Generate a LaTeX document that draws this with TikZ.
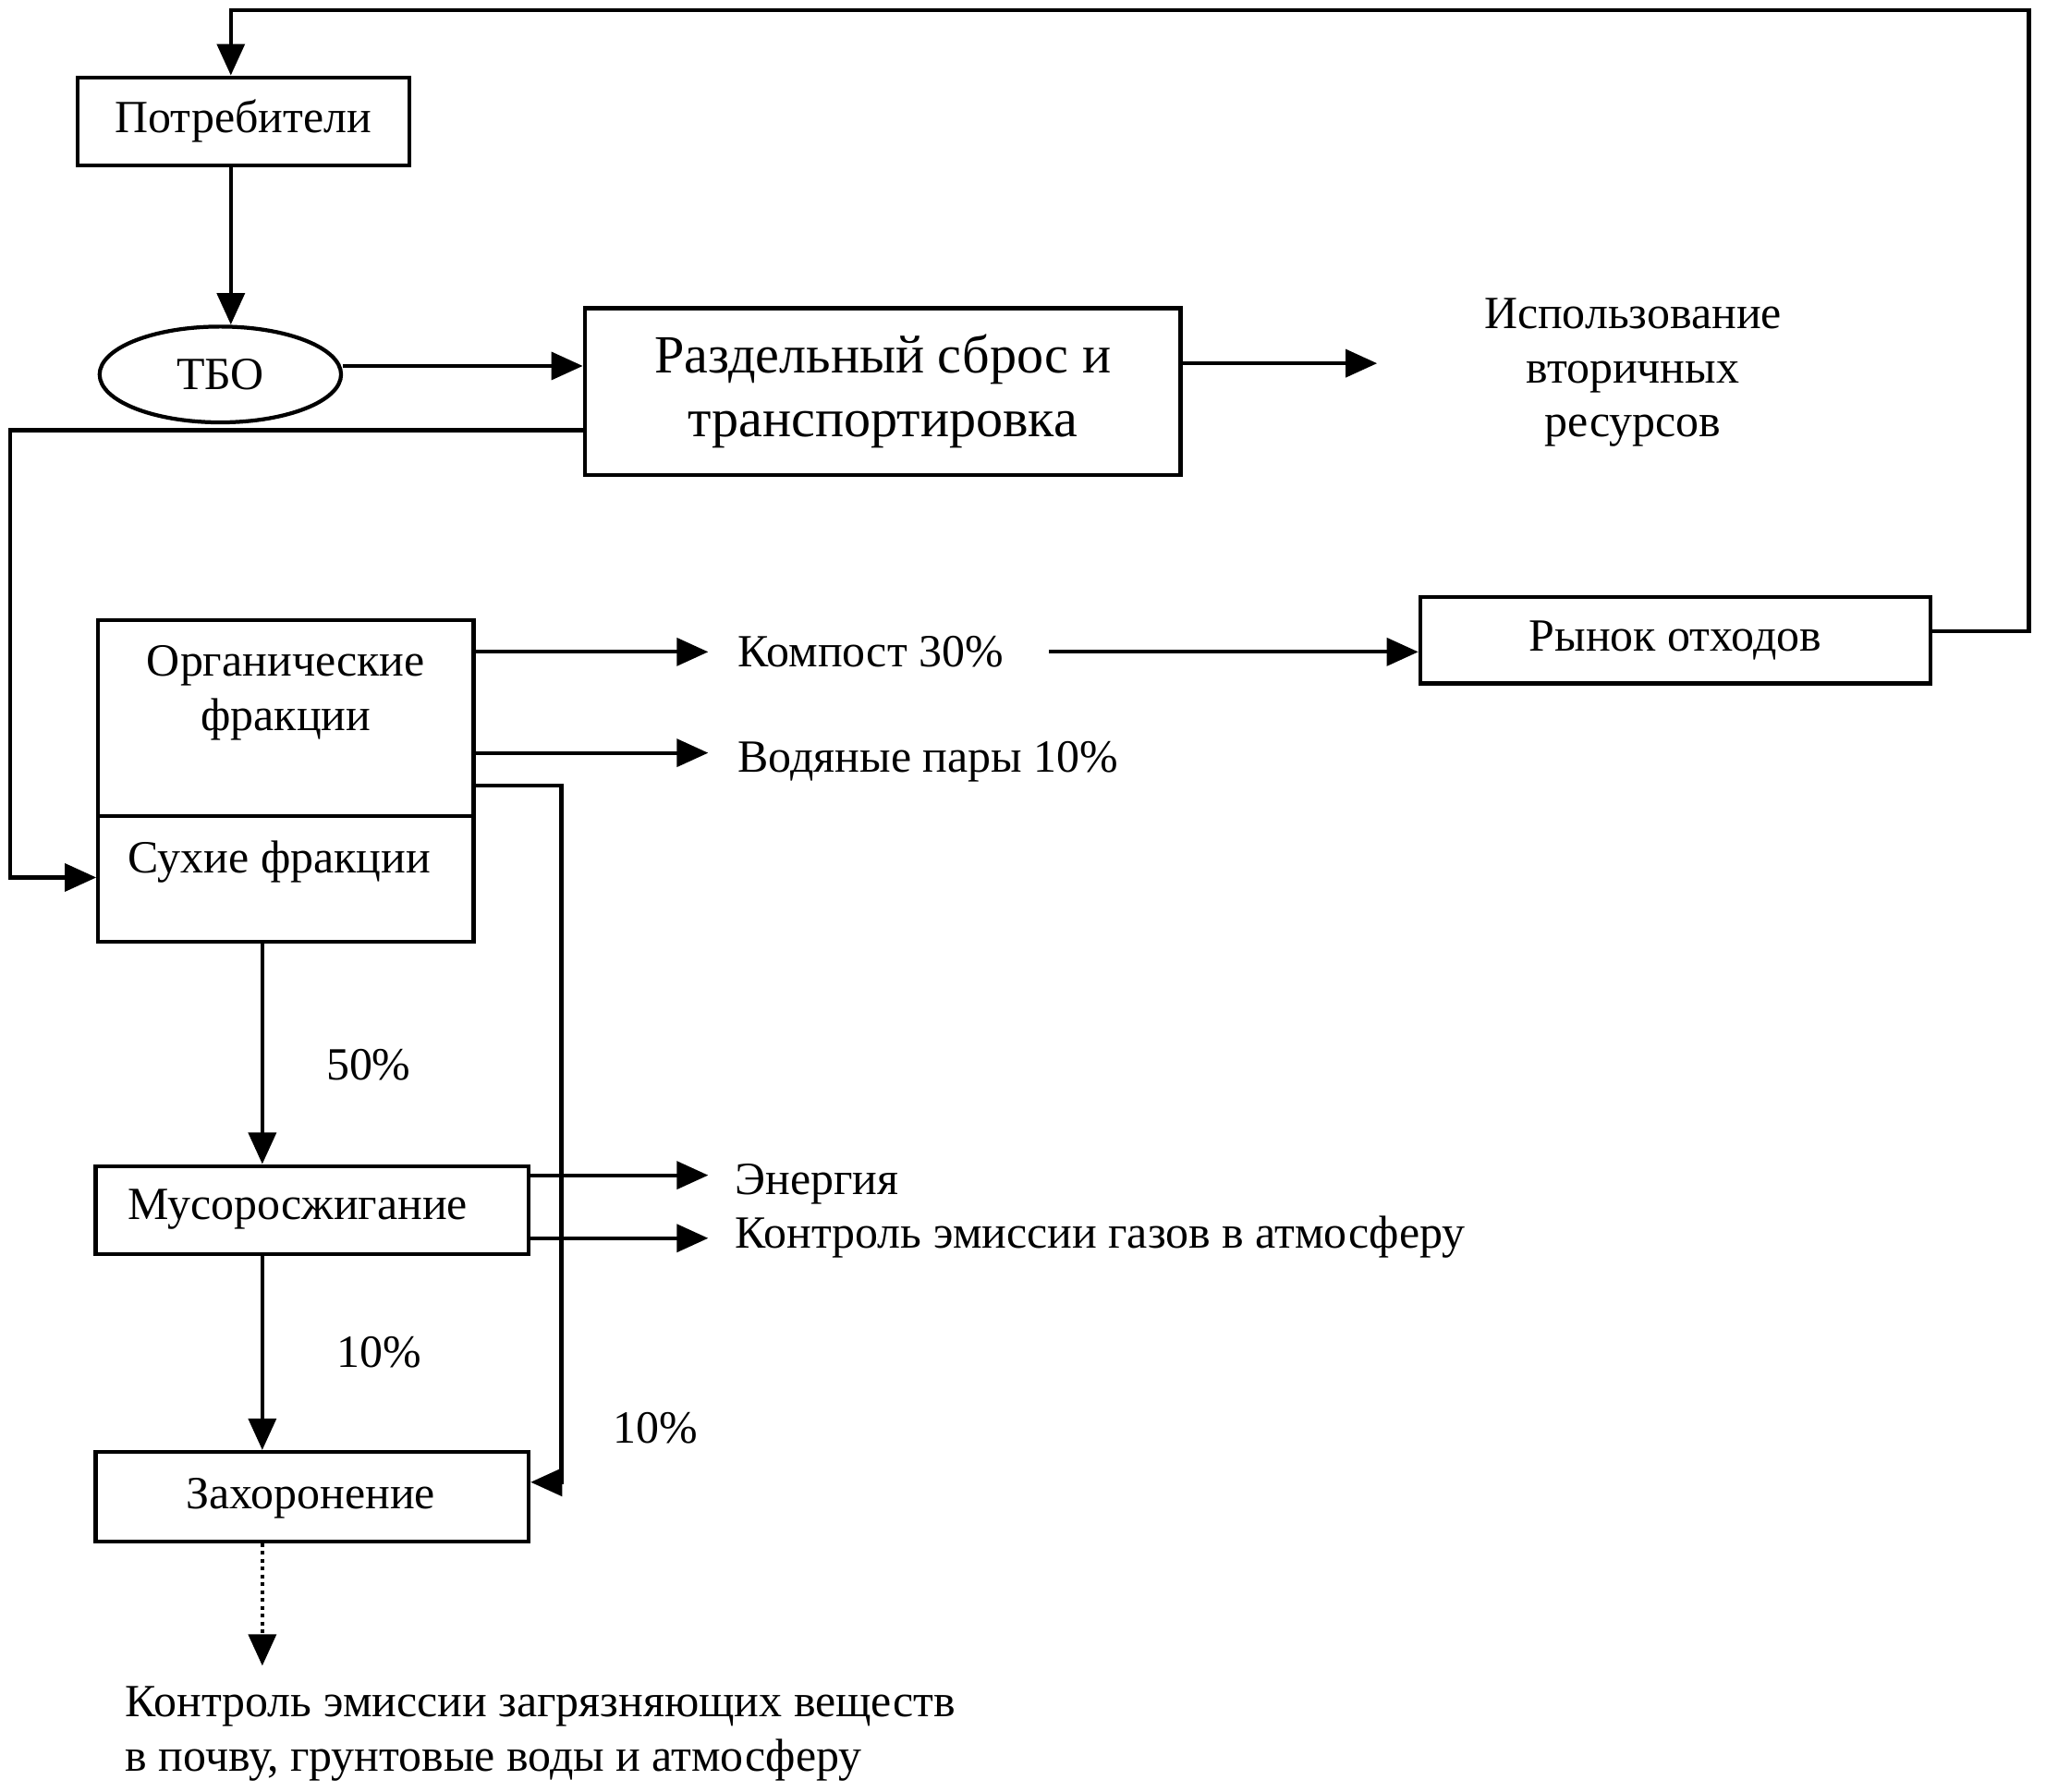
\documentclass[tikz,border=0pt]{standalone}
\usepackage{fontspec}
\setmainfont{Liberation Serif}
\usetikzlibrary{arrows.meta,shapes.geometric,calc}
\begin{document}
\begin{tikzpicture}[x=0.01cm,y=-0.01cm,
  lw/.style={line width=0.85pt},
  box/.style={draw,lw,rectangle,inner sep=0pt,font=\fontsize{10}{11.8}\selectfont},
  txt/.style={inner sep=0pt,font=\fontsize{10}{11.8}\selectfont},
  big/.style={font=\fontsize{11.65}{13.9}\selectfont},
  arr/.style={lw,-{Triangle[length=0.24cm,width=0.21cm]}},
  dotline/.style={dash pattern=on 0.8pt off 0.9pt}]
\useasboundingbox (0,0) rectangle (1560,1366);

% nodes
\node[box,minimum width=2.53cm,minimum height=0.67cm] (potr) at (185.5,92.5) {Потребители};
\node[draw,lw,ellipse,inner sep=0pt,minimum width=1.84cm,minimum height=0.73cm,font=\fontsize{10}{11.8}\selectfont] (tbo) at (168,285.5) {ТБО};
\node[box,big,align=center,minimum width=4.54cm,minimum height=1.27cm] (razd) at (673,298.5) {Раздельный сброс и\\транспортировка};
\node[txt,align=center] (isp) at (1245,284) {Использование\\вторичных\\ресурсов};
\node[box,minimum width=2.86cm,minimum height=1.49cm] (org) at (218,547.5) {};
\node[txt,align=center] (orgt) at (218,528) {Органические\\фракции};
\node[box,minimum width=2.86cm,minimum height=0.96cm] (dry) at (218,670) {};
\node[txt] (dryt) at (213,657) {Сухие фракции};
\node[txt,anchor=west] (komp) at (562,497) {Компост 30\%};
\node[txt,anchor=west] (vod) at (562,581) {Водяные пары 10\%};
\node[box,minimum width=3.89cm,minimum height=0.66cm] (rynok) at (1277.5,488) {Рынок отходов};
\node[box,minimum width=3.30cm,minimum height=0.67cm] (mus) at (238,922.5) {};
\node[txt] (must) at (227,922) {Мусоросжигание};
\node[txt,anchor=west] (energ) at (560,903) {Энергия};
\node[txt,anchor=west] (gas) at (560,943) {Контроль эмиссии газов в атмосферу};
\node[box,minimum width=3.30cm,minimum height=0.68cm] (zah) at (238,1141) {};
\node[txt] (zaht) at (237,1142) {Захоронение};
\node[txt] (p50) at (281,812) {50\%};
\node[txt] (p10a) at (289,1031) {10\%};
\node[txt] (p10b) at (500,1089) {10\%};
\node[txt,align=left,anchor=west] (soil) at (95,1322) {Контроль эмиссии загрязняющих веществ\\в почву, грунтовые воды и атмосферу};

% free ends
\coordinate (ispin) at (1050,277);
\coordinate (kompin) at (540,497);
\coordinate (vodin) at (540,574);
\coordinate (energin) at (540,896);
\coordinate (gasin) at (540,944);
\coordinate (soilin) at (200,1270);
\coordinate (kompout) at (800,497);

% connectors
\draw[arr] (rynok.east |- 0,481) -- (1547,481) |- (176,8) -- (potr.north -| 176,0);
\draw[arr] (potr.south -| 176,0) -- (tbo.north -| 176,0);
\draw[arr] (tbo.east |- 0,279) -- (razd.west |- 0,279);
\draw[arr] (razd.east |- ispin) -- (ispin);
\draw[arr] (razd.west |- 0,328) -- (8,328) |- (dry.west |- 0,669);
\draw[arr] (org.east |- kompin) -- (kompin);
\draw[arr] (org.east |- vodin) -- (vodin);
\draw[arr] (org.east |- 0,599) -- (428,599) |- (zah.east |- 0,1130);
\draw[arr] (kompout) -- (rynok.west |- kompout);
\draw[arr] (dry.south -| 200,0) -- (mus.north -| 200,0);
\draw[arr] (mus.east |- energin) -- (energin);
\draw[arr] (mus.east |- gasin) -- (gasin);
\draw[arr] (mus.south -| 200,0) -- (zah.north -| 200,0);
\draw[arr,dotline] (zah.south -| 200,0) -- (soilin);
\end{tikzpicture}
\end{document}
